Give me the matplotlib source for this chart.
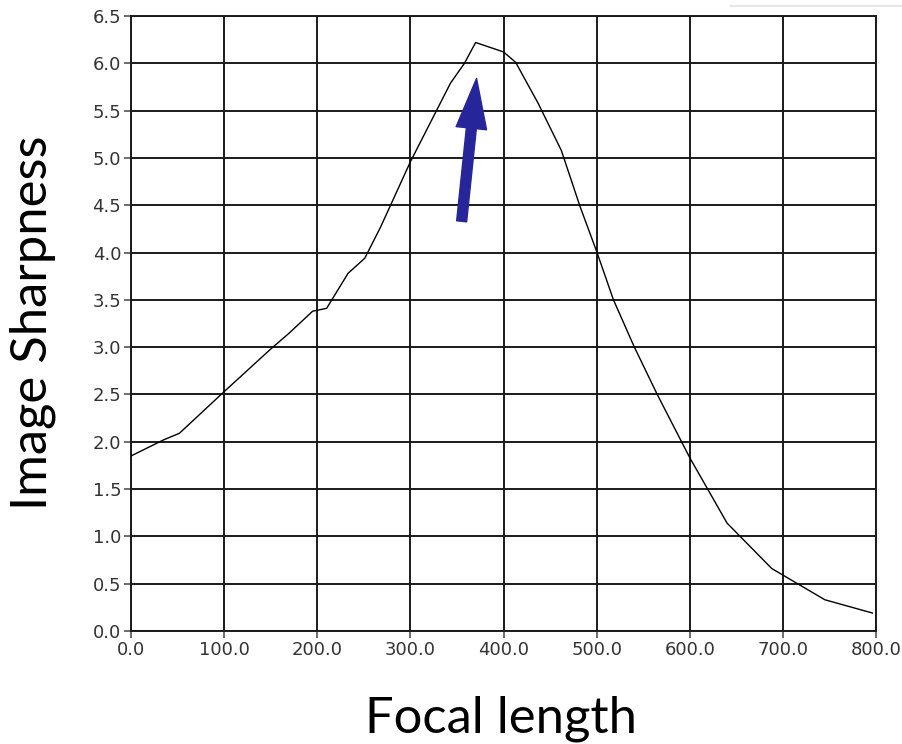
import matplotlib.pyplot as plt
from matplotlib.lines import Line2D
from matplotlib.ticker import FormatStrFormatter

# values
focal = [0, 35, 52, 100, 150, 170, 195, 210, 233, 251, 268, 300, 343, 358,
         370, 400, 413, 437, 462, 482, 500, 518, 540, 565, 600, 640, 688,
         745, 796]
sharp = [1.85, 2.02, 2.09, 2.53, 2.98, 3.15, 3.38, 3.41, 3.78, 3.94, 4.27,
         4.96, 5.79, 6.0, 6.22, 6.12, 6.01, 5.58, 5.08, 4.49, 4.01, 3.5,
         3.01, 2.5, 1.83, 1.14, 0.66, 0.33, 0.19]

x_ticks = [0, 100, 200, 300, 400, 500, 600, 700, 800]
y_ticks = [0.0, 0.5, 1.0, 1.5, 2.0, 2.5, 3.0, 3.5, 4.0, 4.5, 5.0, 5.5, 6.0, 6.5]

# arrow pointing at the peak
arrow_tail = (355, 4.33)
arrow_tip = (371, 5.84)

fig = plt.figure(figsize=(9.03, 7.44), dpi=100)
ax = fig.add_axes([0.1451, 0.1519, 0.8251, 0.8266])

ax.plot(focal, sharp, color="black", linewidth=1.0, zorder=3)

ax.set_xlim(0, 800)
ax.set_ylim(0, 6.5)
ax.set_xticks(x_ticks)
ax.set_yticks(y_ticks)
ax.xaxis.set_major_formatter(FormatStrFormatter("%.1f"))
ax.yaxis.set_major_formatter(FormatStrFormatter("%.1f"))
ax.grid(True, color="#1a1a1a", linewidth=1.4)
ax.set_axisbelow(True)
for s in ax.spines.values():
    s.set_color("#1a1a1a")
    s.set_linewidth(1.4)
ax.tick_params(axis="both", direction="out", length=5, width=1.2,
               color="#555555", labelcolor="#333333", labelsize=13, pad=2)
for lab in ax.get_xticklabels() + ax.get_yticklabels():
    lab.set_family("DejaVu Sans")

ax.annotate("", xy=arrow_tip, xytext=arrow_tail,
            arrowprops=dict(arrowstyle="simple,head_width=2.2,head_length=3.6,tail_width=0.72",
                            mutation_scale=10, color="#26269a",
                            shrinkA=0, shrinkB=0), zorder=4)

ax.set_xlabel("Focal length", fontsize=36.5, family="Lato")
ax.set_ylabel("Image Sharpness", fontsize=36.5, family="Lato")
ax.xaxis.set_label_coords(0.497, -0.142)
ax.yaxis.set_label_coords(-0.1315, 0.502)
ax.xaxis.label.set_va("center")
ax.yaxis.label.set_va("center")
ax.yaxis.label.set_ha("center")

fig.add_artist(Line2D([0.81, 1.0], [0.9915, 0.9915], color="#e6e6e6",
                      linewidth=1.5))

fig.savefig("out.png", dpi=100)
